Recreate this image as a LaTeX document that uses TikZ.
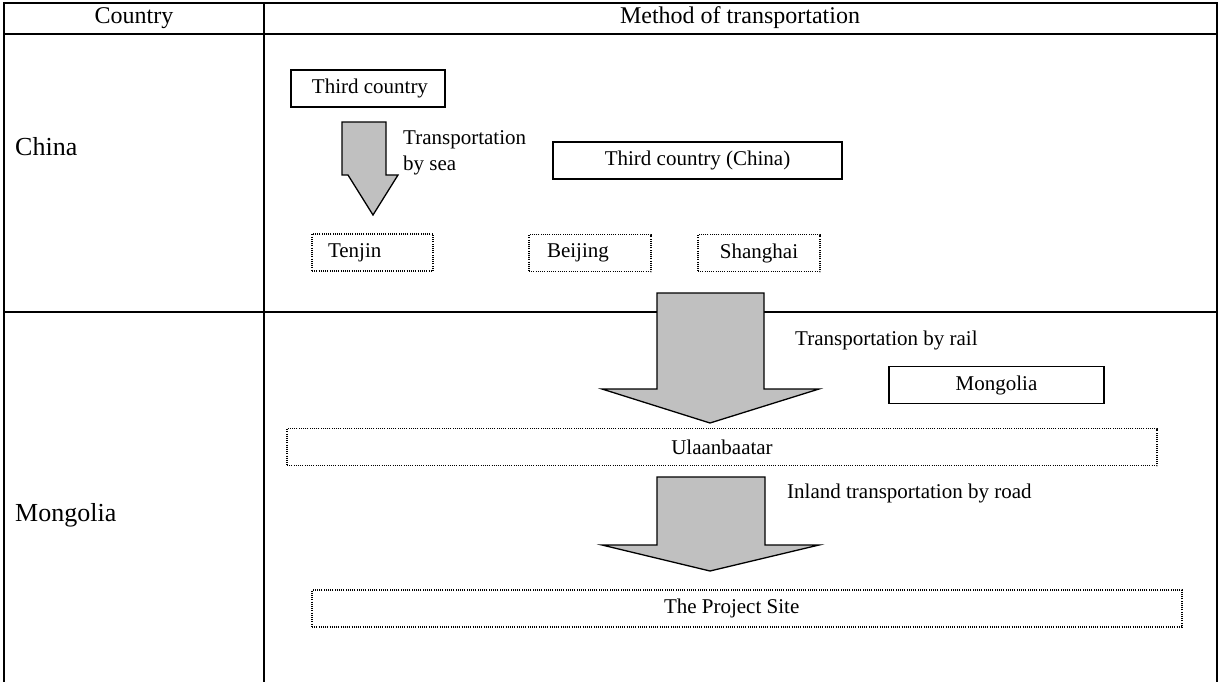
\documentclass[tikz,border=0pt]{standalone}
\usepackage{fontspec}
\setmainfont{Liberation Serif}
\definecolor{arrowgray}{HTML}{C0C0C0}
\begin{document}
\begin{tikzpicture}[x=1pt,y=-1pt,
  boxtext/.style={font=\fontsize{21}{26}\selectfont},
  solidbox/.style={boxtext, draw, line width=1.3pt, inner ysep=0pt, minimum height=37},
  dotbox/.style={boxtext, draw, line width=1.1pt, dash pattern=on 1pt off 1.2pt, inner ysep=0pt, minimum height=37},
  blockarrow/.style={draw, line width=1.3pt, fill=arrowgray, line join=miter},
  tabline/.style={line width=1.7pt},
  lbl/.style={boxtext, inner sep=0pt, anchor=west},
  headtext/.style={font=\fontsize{24}{28}\selectfont, inner sep=0pt},
  countrytext/.style={font=\fontsize{26}{30}\selectfont, inner sep=0pt, anchor=west}]
\useasboundingbox (0,0) rectangle (1221,681);
% table
\draw[tabline] (4,690) -- (4,3) -- (1217,3) -- (1217,690);
\draw[tabline] (4,34) -- (1217,34);
\draw[tabline] (264,3) -- (264,690);
\draw[tabline] (4,312) -- (1217,312);
\node[headtext] (hcountry) at (134,18) {Country};
\node[headtext] (hmethod) at (740,18) {Method of transportation};
\node[countrytext] (china) at (15,147) {China};
\node[countrytext] (mongolia) at (15,515) {Mongolia};
% China row
\node[solidbox, text width=120, inner xsep=17, align=flush right] (third) at (368,88.5) {Third country};
\node[solidbox, minimum width=289] (thirdchina) at (697.5,160.5) {Third country (China)};
\node[dotbox, text width=89, inner xsep=16, align=flush left] (tenjin) at (372.5,252.5) {Tenjin};
\node[dotbox, text width=86, inner xsep=18, align=flush left] (beijing) at (590,253) {Beijing};
\node[dotbox, minimum width=122] (shanghai) at (759,253) {Shanghai};
\draw[blockarrow] (342,122) -- (386,122) -- (386,175) -- (398,175) -- (373,215) -- (348,175) -- (342,175) -- cycle;
\node[lbl, align=left] (sealbl) at (403,153) {Transportation\\by sea};
% Mongolia row
\draw[blockarrow] (657,293) -- (764,293) -- (764,389) -- (819,389) -- (710,423) -- (602,389) -- (657,389) -- cycle;
\node[lbl] (raillbl) at (795,340) {Transportation by rail};
\node[solidbox, minimum width=215] (mongbox) at (996.5,385) {Mongolia};
\node[dotbox, minimum width=870] (ulaan) at (722,447) {Ulaanbaatar};
\draw[blockarrow] (657,477) -- (765,477) -- (765,545) -- (819,545) -- (710,571) -- (602,545) -- (657,545) -- cycle;
\node[lbl] (roadlbl) at (787,493) {Inland transportation by road};
\node[dotbox, text width=166, inner xsep=352, align=flush left] (site) at (747,608.5) {The Project Site};
\end{tikzpicture}
\end{document}
